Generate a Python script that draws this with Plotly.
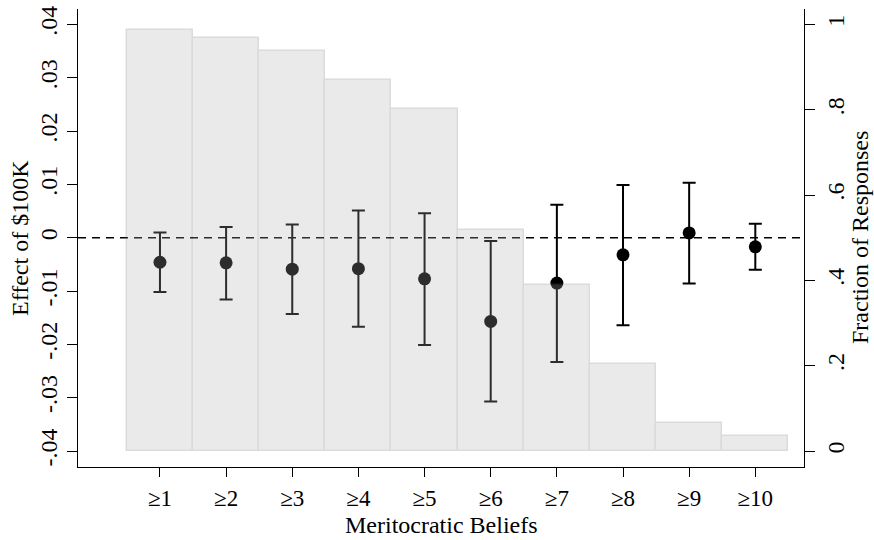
import plotly.graph_objects as go

# Meritocratic belief thresholds
categories = ["≥1", "≥2", "≥3", "≥4", "≥5", "≥6", "≥7", "≥8", "≥9", "≥10"]

# Share of responses at or above each threshold (right axis)
fraction = [0.986, 0.967, 0.938, 0.870, 0.802, 0.519, 0.388, 0.205, 0.066, 0.036]

# Point estimates of the $100K effect with 95% confidence bounds (left axis)
effect = [-0.0046, -0.0047, -0.0059, -0.0058, -0.0077, -0.0157, -0.0085, -0.0032, 0.0009, -0.0017]
ci_high = [0.0010, 0.0020, 0.0025, 0.0051, 0.0046, -0.0006, 0.0062, 0.0099, 0.0103, 0.0026]
ci_low = [-0.0102, -0.0116, -0.0143, -0.0167, -0.0201, -0.0307, -0.0233, -0.0164, -0.0086, -0.0060]

left_ticks = [-0.04, -0.03, -0.02, -0.01, 0, 0.01, 0.02, 0.03, 0.04]
left_labels = ["-.04", "-.03", "-.02", "-.01", "0", ".01", ".02", ".03", ".04"]
right_ticks = [0, 0.2, 0.4, 0.6, 0.8, 1]
right_labels = ["0", ".2", ".4", ".6", ".8", "1"]

x_title = "Meritocratic Beliefs"
left_title = "Effect of $100K"
right_title = "Fraction of Responses"

FONT = "Liberation Serif"

err_plus = [h - m for h, m in zip(ci_high, effect)]
err_minus = [m - l for m, l in zip(effect, ci_low)]

fig = go.Figure()

fig.add_trace(go.Scatter(
    x=categories, y=effect, mode="markers",
    marker=dict(color="black", size=13),
    error_y=dict(type="data", array=err_plus, arrayminus=err_minus,
                 color="black", thickness=2, width=6.5),
    yaxis="y", showlegend=False,
))

# translucent histogram sits above the estimates, greying them where they overlap
fig.add_trace(go.Bar(
    x=categories, y=fraction, yaxis="y2",
    marker=dict(color="rgb(176,176,176)", line=dict(color="rgb(118,118,118)", width=1.5)),
    opacity=0.255, showlegend=False,
))

fig.add_shape(type="line", xref="paper", yref="y", x0=0, x1=1, y0=0, y1=0,
              line=dict(color="black", width=1.3, dash="8px,6px"), layer="below")

axis_font = dict(family=FONT, size=24, color="black")
xtick_font = dict(family=FONT, size=23, color="black")

# axis titles
fig.add_annotation(text=x_title, xref="paper", yref="paper", x=0.5, y=0,
                   xanchor="center", yanchor="middle", yshift=-58,
                   showarrow=False, font=axis_font)
fig.add_annotation(text=left_title, xref="paper", yref="paper", x=0, y=0.5,
                   xanchor="center", yanchor="middle", xshift=-58, textangle=-90,
                   showarrow=False, font=axis_font)
fig.add_annotation(text=right_title, xref="paper", yref="paper", x=1, y=0.5,
                   xanchor="center", yanchor="middle", xshift=56, textangle=-90,
                   showarrow=False, font=axis_font)

common = dict(showline=True, linecolor="black", linewidth=1.3,
              ticks="outside", tickwidth=1.3, tickcolor="black",
              showgrid=False, zeroline=False, automargin=False)

fig.update_layout(
    width=874, height=540,
    margin=dict(l=78, r=70, t=9, b=73),
    paper_bgcolor="white", plot_bgcolor="white",
    bargap=0,
    font=dict(family=FONT, color="black"),
    xaxis=dict(type="category", range=[-1.239, 9.736], ticklen=9,
               ticklabelstandoff=1, tickfont=xtick_font, **common),
    yaxis=dict(range=[-0.0430, 0.0429], tickvals=left_ticks, ticktext=left_labels,
               tickangle=-90, ticklen=10, tickfont=axis_font, **common),
    yaxis2=dict(range=[-0.0375, 1.0361], overlaying="y", side="right",
                tickvals=right_ticks, ticktext=right_labels,
                tickangle=-90, ticklen=10, tickfont=axis_font, **common),
)

fig.write_html("out.html")
